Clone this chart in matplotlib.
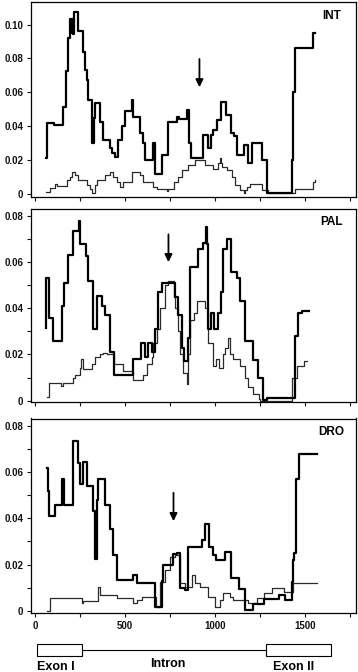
import matplotlib
matplotlib.use("Agg")
import matplotlib.pyplot as plt
from matplotlib.patches import Rectangle

plt.rcParams['font.family'] = ['Liberation Sans', 'DejaVu Sans']

# ---- data (step plots, x = position in bp, y = value from that x onward) ----
int_thick_x = [63, 65, 107, 157, 170, 181, 194, 203, 207, 212, 218, 241, 268, 278, 287, 296, 315, 318,
               325, 335, 361, 380, 417, 426, 444, 463, 481, 500, 540, 546, 583, 602, 611, 657, 667, 704,
               741, 787, 800, 843, 855, 865, 935, 963, 978, 991, 1009, 1033, 1059, 1087, 1107, 1120,
               1163, 1181, 1204, 1263, 1290, 1426, 1435, 1445, 1546, 1556]
int_thick_y = [0.021, 0.0417, 0.0407, 0.0515, 0.0725, 0.092, 0.1035, 0.095, 0.1035, 0.0947, 0.1075, 0.096,
               0.084, 0.073, 0.067, 0.0554, 0.052, 0.030, 0.045, 0.0534, 0.0426, 0.032, 0.027, 0.024, 0.022,
               0.032, 0.040, 0.049, 0.0554, 0.0456, 0.036, 0.030, 0.020, 0.030, 0.012, 0.023, 0.0426,
               0.0456, 0.044, 0.0495, 0.030, 0.021, 0.0348, 0.027, 0.0348, 0.038, 0.0436, 0.054, 0.0466,
               0.036, 0.034, 0.023, 0.029, 0.018, 0.030, 0.020, 0.0004, 0.020, 0.060, 0.086, 0.095, 0.095]

int_thin_x = [63, 83, 111, 120, 176, 194, 204, 222, 241, 287, 305, 315, 333, 343, 389, 417, 435, 454, 472,
              491, 537, 583, 602, 657, 676, 731, 741, 769, 796, 815, 852, 889, 944, 991, 1018, 1026, 1030,
              1037, 1065, 1093, 1111, 1139, 1163, 1167, 1176, 1194, 1259, 1296, 1444, 1546, 1556]
int_thin_y = [0.0014, 0.0033, 0.006, 0.0047, 0.008, 0.010, 0.013, 0.011, 0.008, 0.005, 0.003, 0.0004,
              0.005, 0.008, 0.011, 0.013, 0.010, 0.007, 0.004, 0.007, 0.013, 0.011, 0.007, 0.004, 0.003,
              0.0015, 0.003, 0.007, 0.010, 0.014, 0.017, 0.020, 0.017, 0.015, 0.018, 0.021, 0.018, 0.016,
              0.014, 0.010, 0.005, 0.0024, 0.0004, 0.0024, 0.0043, 0.006, 0.0024, 0.0008, 0.003, 0.007,
              0.008]

pal_thick_x = [63, 64, 78, 102, 152, 163, 185, 213, 246, 252, 281, 296, 324, 343, 374, 389, 417, 441,
               546, 589, 611, 630, 648, 667, 685, 704, 778, 796, 815, 830, 852, 861, 904, 935, 948, 954,
               963, 978, 996, 1015, 1030, 1046, 1067, 1089, 1120, 1139, 1167, 1213, 1237, 1268, 1287,
               1444, 1459, 1481, 1519]
pal_thick_y = [0.0314, 0.053, 0.036, 0.026, 0.041, 0.051, 0.063, 0.0735, 0.078, 0.068, 0.0625, 0.052,
               0.031, 0.0455, 0.041, 0.037, 0.021, 0.011, 0.018, 0.025, 0.019, 0.025, 0.021, 0.031, 0.047,
               0.051, 0.045, 0.037, 0.023, 0.017, 0.027, 0.058, 0.0656, 0.0685, 0.0754, 0.068, 0.031,
               0.038, 0.031, 0.038, 0.047, 0.0656, 0.070, 0.0556, 0.053, 0.043, 0.026, 0.0175, 0.010,
               0.0003, 0.0013, 0.028, 0.038, 0.039, 0.039]

pal_thin_x = [65, 78, 144, 154, 209, 222, 250, 256, 269, 315, 333, 361, 380, 398, 439, 491, 546, 602, 620,
              648, 657, 676, 694, 722, 741, 769, 778, 796, 806, 824, 843, 852, 861, 880, 898, 944, 963,
              991, 1006, 1019, 1043, 1056, 1074, 1080, 1102, 1139, 1167, 1185, 1213, 1241, 1250, 1426,
              1454, 1491, 1509]
pal_thin_y = [0.0017, 0.0075, 0.0065, 0.0075, 0.010, 0.011, 0.014, 0.018, 0.0135, 0.016, 0.019, 0.020,
              0.0205, 0.020, 0.016, 0.013, 0.009, 0.011, 0.016, 0.019, 0.025, 0.031, 0.040, 0.050, 0.052,
              0.045, 0.040, 0.030, 0.020, 0.012, 0.007, 0.020, 0.035, 0.038, 0.043, 0.040, 0.025, 0.015,
              0.018, 0.014, 0.020, 0.023, 0.027, 0.020, 0.018, 0.015, 0.010, 0.006, 0.003, 0.0007, 0.0,
              0.010, 0.015, 0.017, 0.017]

dro_thick_x = [65, 70, 80, 111, 148, 160, 213, 238, 250, 265, 290, 320, 333, 343, 352, 389, 417, 435,
               453, 546, 565, 667, 704, 713, 740, 765, 787, 806, 833, 852, 926, 944, 967, 991, 1004,
               1056, 1089, 1135, 1165, 1213, 1270, 1352, 1389, 1426, 1432, 1440, 1450, 1463, 1565]
dro_thick_y = [0.062, 0.052, 0.041, 0.046, 0.057, 0.046, 0.0737, 0.064, 0.055, 0.0643, 0.054, 0.043,
               0.0226, 0.048, 0.057, 0.046, 0.0355, 0.024, 0.0135, 0.0154, 0.0118, 0.0017, 0.013,
               0.0197, 0.020, 0.0247, 0.025, 0.010, 0.009, 0.0277, 0.0305, 0.0377, 0.0277, 0.024, 0.022,
               0.0255, 0.014, 0.0096, 0.0003, 0.003, 0.005, 0.0068, 0.0046, 0.0125, 0.022, 0.025, 0.057,
               0.068, 0.068]

dro_thin_x = [65, 83, 259, 268, 352, 361, 454, 546, 565, 593, 672, 694, 722, 750, 778, 806, 833, 870,
              889, 917, 963, 1000, 1028, 1046, 1083, 1102, 1185, 1232, 1269, 1315, 1380, 1435, 1565]
dro_thin_y = [0.0, 0.0053, 0.0032, 0.004, 0.0104, 0.0068, 0.0053, 0.0032, 0.0046, 0.006, 0.0017, 0.0126,
              0.0176, 0.0234, 0.024, 0.0118, 0.0104, 0.0155, 0.0118, 0.0104, 0.006, 0.0017, 0.0046,
              0.0075, 0.006, 0.0046, 0.0032, 0.0053, 0.0075, 0.0097, 0.0082, 0.012, 0.012]

panel_names = ["INT", "PAL", "DRO"]
arrow_x = [913, 741, 769]
arrow_y = [(0.0813, 0.0613), (0.0733, 0.0588), (0.0523, 0.0376)]
x_ticks = [0, 250, 500, 750, 1000, 1250, 1500, 1750]
x_ticklabels = ["0", "", "500", "", "1000", "", "1500", ""]

W, H = 358, 672


def px_axes(fig, left, top, right, bottom):
    return fig.add_axes([left / W, 1 - bottom / H, (right - left) / W, (bottom - top) / H])


fig = plt.figure(figsize=(W / 100, H / 100), dpi=100)

boxes = [(31, 2, 356, 197), (31, 208.5, 356, 402), (31, 418.5, 356, 613)]
ylims = [(-0.0018, 0.1133), (-0.0006, 0.0833), (-0.001, 0.0833)]
ymajor = [[0, 0.02, 0.04, 0.06, 0.08, 0.10],
          [0, 0.01, 0.02, 0.03, 0.04, 0.05, 0.06, 0.07, 0.08],
          [0, 0.01, 0.02, 0.03, 0.04, 0.05, 0.06, 0.07, 0.08]]
series = [(int_thick_x, int_thick_y, int_thin_x, int_thin_y),
          (pal_thick_x, pal_thick_y, pal_thin_x, pal_thin_y),
          (dro_thick_x, dro_thick_y, dro_thin_x, dro_thin_y)]

for i in range(3):
    ax = px_axes(fig, *boxes[i])
    tx, ty, nx, ny = series[i]
    ax.step(nx, ny, where='post', color='#2a2a2a', lw=0.9)
    ax.step(tx, ty, where='post', color='black', lw=1.6)
    ax.set_xlim(-22, 1782)
    ax.set_ylim(*ylims[i])
    ax.set_xticks(x_ticks)
    if i == 2:
        ax.set_xticklabels(x_ticklabels, fontweight='bold')
    else:
        ax.set_xticklabels([])
    ax.set_yticks(ymajor[i])
    labels = []
    for v in ymajor[i]:
        if v == 0:
            labels.append("0")
        elif round(v * 100) % 2 == 0:
            labels.append(f"{v:.2f}")
        else:
            labels.append("")
    ax.set_yticklabels(labels, fontweight='bold')
    ax.tick_params(direction='out', length=3, width=0.8, labelsize=7, pad=2.5, colors='#111111')
    for s in ax.spines.values():
        s.set_linewidth(0.9)
    ax.text(0.925, 0.93, panel_names[i], transform=ax.transAxes, ha='center', va='center',
            fontsize=8.5, fontweight='bold')
    ax.annotate("", xy=(arrow_x[i], arrow_y[i][1]), xytext=(arrow_x[i], arrow_y[i][0]),
                arrowprops=dict(arrowstyle='-|>,head_length=0.45,head_width=0.22', color='black', lw=1.3))

# gene structure diagram
gx = px_axes(fig, 31, 640, 356, 672)
gx.set_xlim(-22, 1782)
gx.set_ylim(0, 32)
gx.axis('off')
gx.plot([259, 1282], [22, 22], color='black', lw=0.8)
gx.add_patch(Rectangle((9, 16), 250, 12, facecolor='white', edgecolor='black', lw=0.8))
gx.add_patch(Rectangle((1282, 16), 361, 12, facecolor='white', edgecolor='black', lw=0.8))
gx.text(116, 1.5, "Exon I", ha='center', va='baseline', fontsize=9, fontweight='bold')
gx.text(735, 5, "Intron", ha='center', va='baseline', fontsize=9, fontweight='bold')
gx.text(1435, 1.5, "Exon II", ha='center', va='baseline', fontsize=9, fontweight='bold')

fig.savefig("out.png", dpi=100)
